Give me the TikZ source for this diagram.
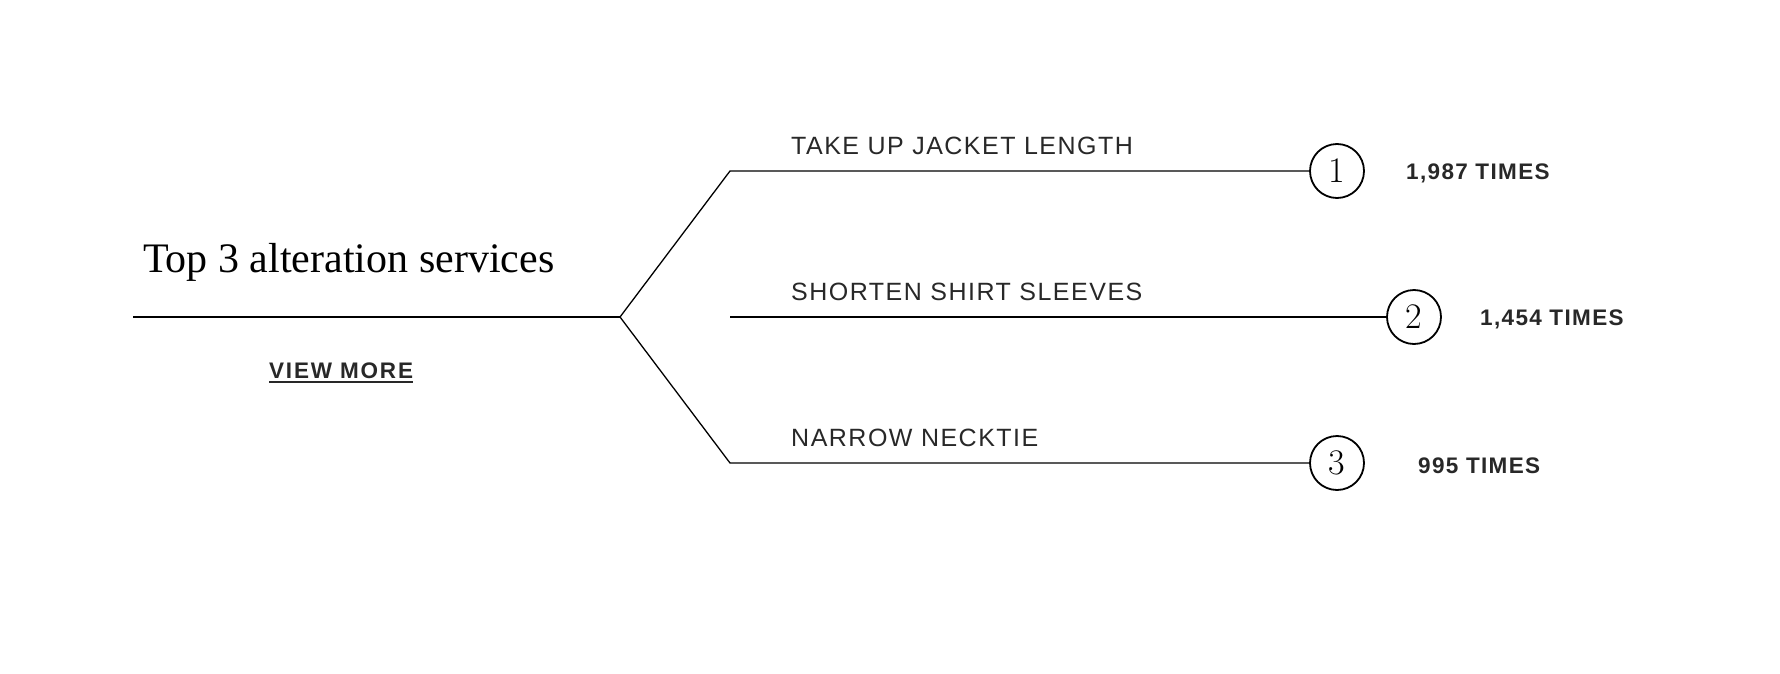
\documentclass[tikz,border=0pt]{standalone}
\usepackage{fontspec}
\newfontfamily\sansreg[LetterSpace=6]{Liberation Sans}
\newfontfamily\sanssp[LetterSpace=6]{Liberation Sans}
\newfontfamily\sanslink[LetterSpace=8]{Liberation Sans}
\newfontfamily\titlefont{Liberation Serif}
\definecolor{txt}{RGB}{40,40,40}
\begin{document}
\begin{tikzpicture}[x=1pt,y=-1pt,
  conn/.style={draw=black,line width=1.3pt},
  numcirc/.style={circle,draw=black,line width=1.8pt,minimum size=54pt,inner sep=0pt,font=\fontsize{36}{36}\selectfont},
  svclabel/.style={anchor=base west,inner sep=0pt,text=txt,font=\sansreg\fontsize{25}{29}\selectfont},
  countlabel/.style={anchor=base west,inner sep=0pt,text=txt,font=\sanssp\bfseries\fontsize{22.5}{26}\selectfont},
  titlestyle/.style={anchor=base west,inner sep=0pt,text=black,font=\titlefont\fontsize{42}{48}\selectfont},
  linkstyle/.style={anchor=base west,inner sep=0pt,text=txt,font=\sanslink\bfseries\fontsize{22.5}{26}\selectfont}
]
\useasboundingbox[fill=white] (0,0) rectangle (1780,674);

% title and link
\node[titlestyle] (title) at (143,272) {Top 3 alteration services};
\node[linkstyle] (vm) at (269,378) {VIEW MORE};
\draw[txt,line width=2pt] ([yshift=-4pt]vm.base west) -- ([yshift=-4pt]vm.base east);

% main stem
\coordinate (start) at (133,317);
\coordinate (apex) at (620,317);
\coordinate (b1) at (730,171);
\coordinate (b2) at (730,317);
\coordinate (b3) at (730,463);

% circles
\node[numcirc] (c1) at (1337,171) {1};
\node[numcirc] (c2) at (1414,317) {2};
\node[numcirc] (c3) at (1337,463) {3};

% connectors
\draw[conn] (start) -- (apex);
\draw[conn] (apex) -- (b1) -- (c1);
\draw[conn] (apex) -- (b3) -- (c3);
\draw[conn] (b2) -- (c2);

% labels
\node[svclabel] (l1) at (791,154) {TAKE UP JACKET LENGTH};
\node[svclabel] (l2) at (791,300) {SHORTEN SHIRT SLEEVES};
\node[svclabel] (l3) at (791,446) {NARROW NECKTIE};

% counts
\node[countlabel] (n1) at (1406,179) {1,987 TIMES};
\node[countlabel] (n2) at (1480,325) {1,454 TIMES};
\node[countlabel] (n3) at (1418,473) {995 TIMES};
\end{tikzpicture}
\end{document}
